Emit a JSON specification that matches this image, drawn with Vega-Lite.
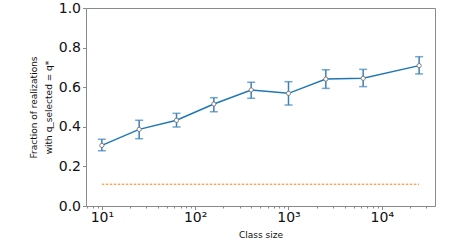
{
  "$schema": "https://vega.github.io/schema/vega-lite/v6.json",
  "autosize": {"type": "none"},
  "padding": {"left": 86, "top": 8, "right": 14, "bottom": 41},
  "width": 349,
  "height": 198,
  "background": "white",
  "config": {
    "font": "DejaVu Sans",
    "view": {"stroke": "#8a8a8a", "strokeWidth": 1},
    "axis": {"grid": false, "domain": false, "tickColor": "#8a8a8a", "labelColor": "#111", "titleColor": "#111", "titleFontWeight": "normal", "labelFont": "DejaVu Sans", "titleFont": "DejaVu Sans", "labelOverlap": false, "labelFlush": false, "labelBound": false},
    "axisY": {"values": [0, 0.2, 0.4, 0.6, 0.8, 1.0], "format": ".1f", "labelFontSize": 14, "tickSize": 3.5, "labelPadding": 2, "titleFontSize": 9, "titleLineHeight": 15, "titleX": -48, "titleY": 99, "titleAlign": "center", "titleBaseline": "bottom", "labelOverlap": false}
  },
  "datasets": {
    "main": [
      {"size": 10, "frac": 0.306, "lo": 0.279, "hi": 0.337},
      {"size": 25.1, "frac": 0.387, "lo": 0.340, "hi": 0.433},
      {"size": 63.1, "frac": 0.433, "lo": 0.399, "hi": 0.468},
      {"size": 158.5, "frac": 0.515, "lo": 0.476, "hi": 0.547},
      {"size": 398.1, "frac": 0.586, "lo": 0.544, "hi": 0.625},
      {"size": 1000, "frac": 0.569, "lo": 0.510, "hi": 0.628},
      {"size": 2512, "frac": 0.641, "lo": 0.594, "hi": 0.688},
      {"size": 6310, "frac": 0.645, "lo": 0.603, "hi": 0.690},
      {"size": 25119, "frac": 0.709, "lo": 0.667, "hi": 0.754}
    ],
    "base": [
      {"size": 10, "frac": 0.11},
      {"size": 25119, "frac": 0.11}
    ]
  },
  "layer": [
    {
      "data": {"name": "main"},
      "mark": {"type": "line", "color": "#1f77b4", "strokeWidth": 1.5},
      "encoding": {
        "x": {"field": "size", "type": "quantitative", "scale": {"type": "log", "domain": [6.76, 37154], "nice": false},
          "axis": {"values": [10, 100, 1000, 10000], "labelExpr": "datum.value == 10 ? '10¹' : datum.value == 100 ? '10²' : datum.value == 1000 ? '10³' : '10⁴'", "labelFontSize": 14, "tickSize": 3.5, "labelPadding": 1, "title": "Class size", "titleFontSize": 9, "titlePadding": 6, "orient": "bottom"}},
        "y": {"field": "frac", "type": "quantitative", "scale": {"domain": [0, 1], "nice": false, "zero": true},
          "title": ["Fraction of realizations", "with q_selected = q*"]}
      }
    },
    {
      "data": {"name": "main"},
      "mark": {"type": "rule", "color": "#3b80b9", "strokeWidth": 1.5},
      "encoding": {
        "x": {"field": "size", "type": "quantitative", "axis": null},
        "y": {"field": "lo", "type": "quantitative", "title": ["Fraction of realizations", "with q_selected = q*"]},
        "y2": {"field": "hi"}
      }
    },
    {
      "data": {"name": "main"},
      "mark": {"type": "tick", "orient": "horizontal", "color": "#3b80b9", "size": 8, "thickness": 1.5},
      "encoding": {
        "x": {"field": "size", "type": "quantitative", "axis": null},
        "y": {"field": "lo", "type": "quantitative", "title": ["Fraction of realizations", "with q_selected = q*"]}
      }
    },
    {
      "data": {"name": "main"},
      "mark": {"type": "tick", "orient": "horizontal", "color": "#3b80b9", "size": 8, "thickness": 1.5},
      "encoding": {
        "x": {"field": "size", "type": "quantitative", "axis": null},
        "y": {"field": "hi", "type": "quantitative", "title": ["Fraction of realizations", "with q_selected = q*"]}
      }
    },
    {
      "data": {"name": "main"},
      "mark": {"type": "point", "shape": "circle", "filled": true, "fill": "white", "stroke": "#6a6a6a", "strokeWidth": 0.8, "size": 18, "opacity": 1},
      "encoding": {
        "x": {"field": "size", "type": "quantitative", "axis": null},
        "y": {"field": "frac", "type": "quantitative", "title": ["Fraction of realizations", "with q_selected = q*"]}
      }
    },
    {
      "data": {"name": "base"},
      "mark": {"type": "line", "color": "#ff7f0e", "strokeWidth": 1, "strokeDash": [2.5, 1.5]},
      "encoding": {
        "x": {"field": "size", "type": "quantitative",
          "axis": {"values": [7, 8, 9, 20, 30, 40, 50, 60, 70, 80, 90, 200, 300, 400, 500, 600, 700, 800, 900, 2000, 3000, 4000, 5000, 6000, 7000, 8000, 9000, 20000, 30000], "labels": false, "tickSize": 2, "title": null, "orient": "bottom"}},
        "y": {"field": "frac", "type": "quantitative", "title": ["Fraction of realizations", "with q_selected = q*"]}
      }
    }
  ],
  "resolve": {"axis": {"x": "independent"}}
}
